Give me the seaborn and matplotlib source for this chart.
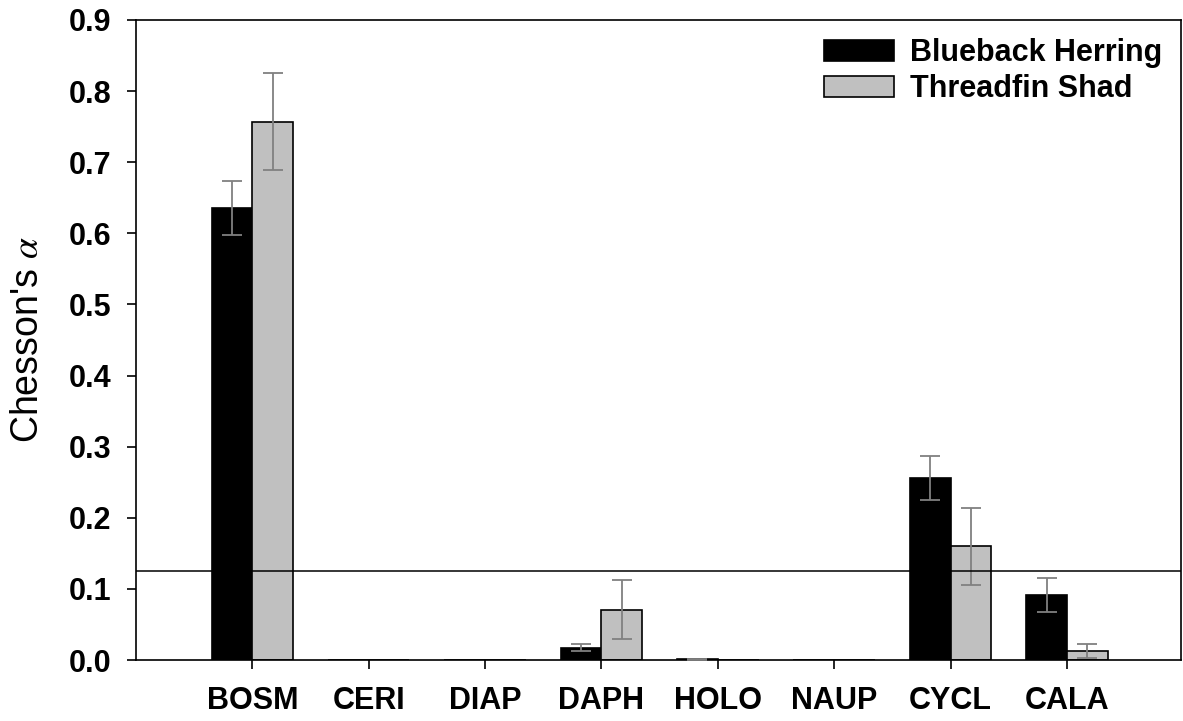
import matplotlib
matplotlib.use("Agg")
import matplotlib.pyplot as plt
import seaborn as sns
import pandas as pd

# Prey taxa and Chesson's alpha selectivity (mean and SE) for each fish species
taxa = ["BOSM", "CERI", "DIAP", "DAPH", "HOLO", "NAUP", "CYCL", "CALA"]
species = ["Blueback Herring", "Threadfin Shad"]
herring_mean = [0.636, 0.0, 0.0, 0.017, 0.001, 0.0, 0.256, 0.091]
herring_se = [0.038, 0.0, 0.0, 0.005, 0.001, 0.0, 0.031, 0.024]
shad_mean = [0.757, 0.0, 0.0, 0.071, 0.0, 0.0, 0.160, 0.013]
shad_se = [0.068, 0.0, 0.0, 0.042, 0.0, 0.0, 0.054, 0.010]
neutral_alpha = 0.125  # 1 / number of prey types
yticks = [0.0, 0.1, 0.2, 0.3, 0.4, 0.5, 0.6, 0.7, 0.8, 0.9]

df = pd.DataFrame({
    "taxon": taxa * 2,
    "species": [species[0]] * len(taxa) + [species[1]] * len(taxa),
    "alpha": herring_mean + shad_mean,
    "se": herring_se + shad_se,
})

sns.set_style("ticks")
plt.rcParams["font.family"] = ["Liberation Sans", "DejaVu Sans"]
plt.rcParams["mathtext.fontset"] = "stix"
plt.rcParams["text.color"] = "black"
plt.rcParams["axes.labelcolor"] = "black"
plt.rcParams["xtick.color"] = "black"
plt.rcParams["ytick.color"] = "black"

fig = plt.figure(figsize=(11.83, 7.21), dpi=100)
ax = fig.add_axes([0.115, 0.0846, 0.8833, 0.8877])

sns.barplot(data=df, x="taxon", y="alpha", hue="species", order=taxa,
            hue_order=species, palette=["#000000", "#c0c0c0"], width=0.7,
            errorbar=None, edgecolor="black", linewidth=1.2, saturation=1,
            ax=ax)

# error bars centred on each drawn bar
bars = [p for p in ax.patches if hasattr(p, "get_height")][:len(df)]
for i, sp in enumerate(species):
    sub = df[df["species"] == sp].reset_index(drop=True)
    for j in range(len(taxa)):
        bar = bars[i * len(taxa) + j]
        if sub.loc[j, "se"] <= 0:
            continue
        xc = bar.get_x() + bar.get_width() / 2
        ax.errorbar(xc, sub.loc[j, "alpha"], yerr=sub.loc[j, "se"],
                    fmt="none", ecolor="#808080", elinewidth=1.3,
                    capsize=7, capthick=1.3, zorder=3)

ax.axhline(neutral_alpha, color="black", lw=1.1, zorder=4)

ax.set_xlim(-1.0, 7.98)
ax.set_ylim(0, 0.9)
ax.set_yticks(yticks)
ax.set_yticklabels([f"{t:.1f}" for t in yticks])
ax.set_xlabel("")
ax.set_ylabel("Chesson's $\\alpha$", fontsize=27, color="black")
ax.yaxis.set_label_coords(-0.086, 0.5)

for s in ax.spines.values():
    s.set_visible(True)
    s.set_color("black")
    s.set_linewidth(1.2)

ax.tick_params(axis="both", direction="out", length=6.5, width=1.2,
               color="black", labelcolor="black", labelsize=22)
ax.tick_params(axis="y", pad=11)
ax.tick_params(axis="x", pad=12)
for lbl in ax.get_xticklabels() + ax.get_yticklabels():
    lbl.set_fontweight("bold")

leg = ax.legend(loc="upper right", frameon=False,
                prop={"weight": "bold", "size": 22},
                handlelength=2.29, handleheight=0.65, handletextpad=0.55,
                labelspacing=0.2, borderaxespad=0.2)
for t in leg.get_texts():
    t.set_color("black")

fig.savefig("out.png", dpi=100)
